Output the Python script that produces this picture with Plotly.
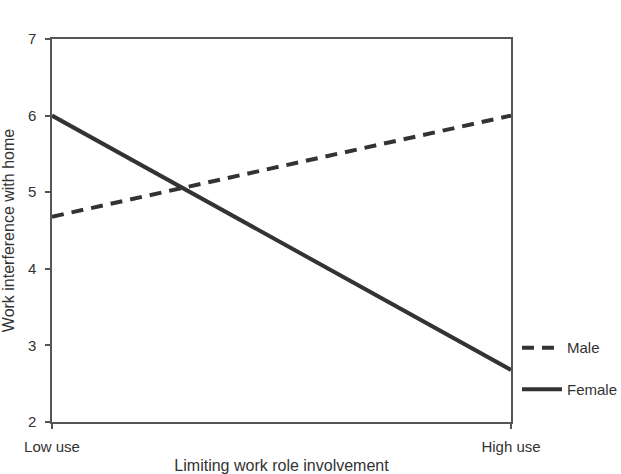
import plotly.graph_objects as go

categories = ["Low use", "High use"]
male = [4.68, 6.0]
female = [6.0, 2.68]
y_ticks = [2, 3, 4, 5, 6, 7]

LINE = "#333333"
AX = "#555555"
TXT = "#333333"
FONT = "Liberation Sans, Arial, sans-serif"

fig = go.Figure()
fig.add_trace(go.Scatter(x=categories, y=male, mode="lines", name="Male",
                         line=dict(color=LINE, width=4, dash="12px,8px"),
                         legendgroup="m"))
fig.add_trace(go.Scatter(x=categories, y=female, mode="lines", name="Female",
                         line=dict(color=LINE, width=4),
                         legendgroup="f"))

fig.update_layout(
    width=621, height=474,
    margin=dict(l=52, r=110, t=39, b=52, autoexpand=False),
    paper_bgcolor="white", plot_bgcolor="white",
    font=dict(family=FONT, size=15, color=TXT),
    showlegend=True,
    legend=dict(x=1.013, y=0.14, xanchor="left", yanchor="middle",
                traceorder="grouped", tracegroupgap=19,
                font=dict(size=15, color=TXT),
                bgcolor="rgba(0,0,0,0)", itemwidth=40),
    xaxis=dict(type="category", range=[0, 1], showgrid=False, zeroline=False,
               showline=True, linecolor=AX, linewidth=1.5, mirror=True,
               ticks="outside", ticklen=5, tickcolor=AX, tickwidth=1.5,
               ticklabelstandoff=5,
               tickfont=dict(size=15, color=TXT),
               title=dict(text="Limiting work role involvement",
                          font=dict(size=16, color=TXT), standoff=16)),
    yaxis=dict(range=[2, 7], tickvals=y_ticks, showgrid=False, zeroline=False,
               showline=True, linecolor=AX, linewidth=1.5, mirror=True,
               ticks="outside", ticklen=5, tickcolor=AX, tickwidth=1.5,
               ticklabelstandoff=6,
               tickfont=dict(size=15, color=TXT),
               title=dict(text="Work interference with home",
                          font=dict(size=16, color=TXT), standoff=14)),
)

fig.write_html("out.html")
